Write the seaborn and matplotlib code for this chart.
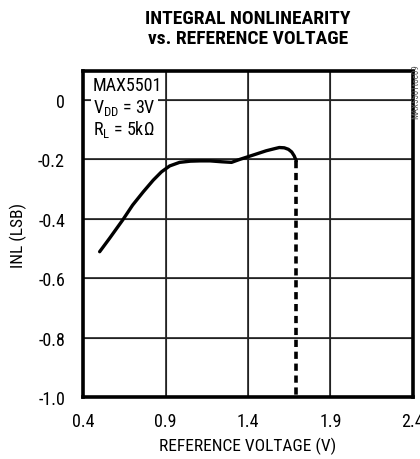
import pandas as pd
import matplotlib.pyplot as plt
import seaborn as sns

# INL vs reference voltage
vref = [0.50, 0.56, 0.64, 0.70, 0.765, 0.825, 0.875, 0.925, 0.985, 1.05, 1.11, 1.17,
        1.24, 1.30, 1.35, 1.40, 1.45, 1.51, 1.56, 1.59, 1.62, 1.645, 1.665, 1.68, 1.693]
inl = [-0.511, -0.466, -0.404, -0.354, -0.309, -0.270, -0.242, -0.222, -0.210, -0.206, -0.205, -0.205,
       -0.208, -0.210, -0.200, -0.191, -0.182, -0.171, -0.164, -0.160, -0.161, -0.166, -0.175, -0.188, -0.205]
# vertical dashed drop where the output collapses
vref_drop = [1.693, 1.693]
inl_drop = [-0.205, -1.0]

xticks = [0.4, 0.9, 1.4, 1.9, 2.4]
xtick_labels = ['0.4', '0.9', '1.4', '1.9', '2.4']
yticks = [0, -0.2, -0.4, -0.6, -0.8, -1.0]
ytick_labels = ['0', '-0.2', '-0.4', '-0.6', '-0.8', '-1.0']

df = pd.DataFrame({'vref': vref, 'inl': inl})
df_drop = pd.DataFrame({'vref': vref_drop, 'inl': inl_drop})

sns.set_style('whitegrid', {'grid.color': '#222222', 'axes.edgecolor': 'black'})
plt.rcParams['font.family'] = ['Roboto Condensed', 'DejaVu Sans']
plt.rcParams['text.color'] = 'black'
plt.rcParams['axes.labelcolor'] = 'black'

fig = plt.figure(figsize=(4.2, 4.6), dpi=100)
ax = fig.add_axes([0.198, 0.135, 0.785, 0.708])

sns.lineplot(data=df, x='vref', y='inl', sort=False, estimator=None, color='black',
             linewidth=2.4, ax=ax)
sns.lineplot(data=df_drop, x='vref', y='inl', sort=False, estimator=None, color='black',
             linewidth=2.6, linestyle=(0, (2, 1.3)), ax=ax)

ax.set_xlim(0.4, 2.4)
ax.set_ylim(-1.0, 0.097)
ax.set_xticks(xticks)
ax.set_xticklabels(xtick_labels)
ax.set_yticks(yticks)
ax.set_yticklabels(ytick_labels)
ax.tick_params(axis='x', length=0, labelsize=13, pad=11, colors='black')
ax.tick_params(axis='y', length=0, labelsize=13, pad=13, colors='black')

# grid lines at the tick values, kept under the curve
for xv in xticks[1:-1]:
    ax.axvline(xv, color='#222222', linewidth=1.2, zorder=1.5)
for yv in yticks[:-1]:
    ax.axhline(yv, color='#222222', linewidth=1.2, zorder=1.5)

for s in ax.spines.values():
    s.set_linewidth(2.6)
    s.set_color('black')

ax.set_xlabel('REFERENCE VOLTAGE (V)', fontsize=12.5, labelpad=5)
ax.set_ylabel('INL (LSB)', fontsize=12.5, labelpad=8)

ax.text(0.03, 0.985, 'MAX5501', transform=ax.transAxes, ha='left', va='top', fontsize=13,
        zorder=3, bbox=dict(facecolor='white', edgecolor='none', pad=1.5))
ax.text(0.03, 0.92, 'V$_{\\mathregular{DD}}$ = 3V', transform=ax.transAxes, ha='left', va='top',
        fontsize=13, zorder=3, bbox=dict(facecolor='white', edgecolor='none', pad=1.5))
ax.text(0.03, 0.855, 'R$_{\\mathregular{L}}$ = 5k\u03a9', transform=ax.transAxes, ha='left', va='top',
        fontsize=13, zorder=3, bbox=dict(facecolor='white', edgecolor='none', pad=1.5))

fig.text(0.59, 0.937, 'INTEGRAL NONLINEARITY\nvs. REFERENCE VOLTAGE', ha='center', va='center',
         fontsize=14, fontweight='bold', linespacing=1.1)
fig.text(0.991, 0.80, 'MAX5501toc09', rotation=90, ha='center', va='center',
         fontsize=6.5, color='#555555')

plt.savefig('out.png', dpi=100)
